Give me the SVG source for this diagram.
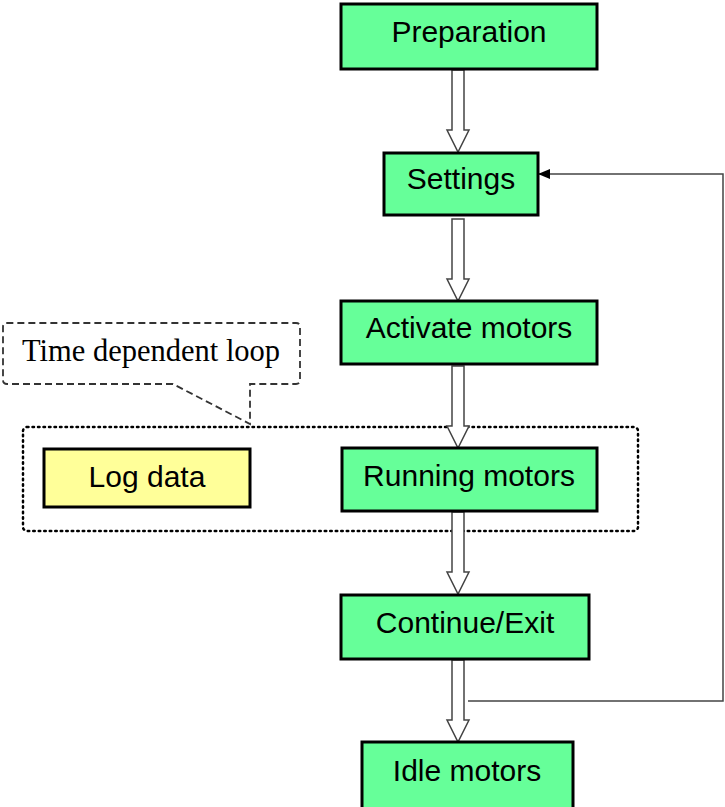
<svg xmlns="http://www.w3.org/2000/svg" width="725" height="807" viewBox="0 0 725 807">
  <style>
    .step { fill: #66FF99; stroke: #000; stroke-width: 3; }
    .note { fill: #FFFF99; stroke: #000; stroke-width: 3; }
    .label { font-family: "Liberation Sans", Arial, sans-serif; font-size: 30px; fill: #000; text-anchor: middle; }
    .callout-text { font-family: "Liberation Serif", "Times New Roman", serif; font-size: 30.5px; fill: #000; }
    .flow { fill: #fff; stroke: #444; stroke-width: 1.5; stroke-linejoin: miter; }
    .loop { fill: none; stroke: #444; stroke-width: 1.5; }
  </style>
  <defs>
    <!-- hollow block arrow pointing down, origin at tip -->
    <path id="blockArrow" d="M -6 -82 L 6 -82 L 6 -22 L 11 -22 L 0 0 L -11 -22 L -6 -22 Z"/>
    <marker id="solidHead" markerWidth="12" markerHeight="10" refX="11" refY="5" orient="auto" markerUnits="userSpaceOnUse">
      <path d="M 0 0 L 12 5 L 0 10 Z" fill="#000"/>
    </marker>
  </defs>

  <!-- loop region and callout -->
  <g id="loop-region">
    <rect x="23" y="427" width="615" height="104" rx="4" fill="none" stroke="#000" stroke-width="2.5" stroke-dasharray="1.5 4" stroke-linecap="round"/>
  </g>
  <g id="callout">
    <path d="M 173 384 L 7 384 Q 3 384 3 380 L 3 327 Q 3 323 7 323 L 296 323 Q 300 323 300 327 L 300 380 Q 300 384 296 384 L 250 384 L 250 424 Z" fill="#fff" stroke="#333" stroke-width="1.8" stroke-dasharray="7 4"/>
    <text class="callout-text" x="22" y="361">Time dependent loop</text>
  </g>

  <!-- connectors -->
  <g id="connectors">
    <use href="#blockArrow" class="flow" x="458" y="152"/>
    <use href="#blockArrow" class="flow" x="458" y="301"/>
    <use href="#blockArrow" class="flow" x="458" y="448"/>
    <use href="#blockArrow" class="flow" x="458" y="594"/>
    <use href="#blockArrow" class="flow" x="458" y="742"/>
    <polyline class="loop" points="468,701 723,701 723,174 539,174" marker-end="url(#solidHead)"/>
  </g>

  <!-- process steps -->
  <g id="preparation">
    <rect class="step" x="341" y="4" width="256" height="65"/>
    <text class="label" x="469" y="42">Preparation</text>
  </g>
  <g id="settings">
    <rect class="step" x="384" y="153" width="154" height="62"/>
    <text class="label" x="461" y="189">Settings</text>
  </g>
  <g id="activate-motors">
    <rect class="step" x="341" y="301" width="256" height="63"/>
    <text class="label" x="469" y="338">Activate motors</text>
  </g>
  <g id="log-data">
    <rect class="note" x="44" y="449" width="206" height="58"/>
    <text class="label" x="147" y="487">Log data</text>
  </g>
  <g id="running-motors">
    <rect class="step" x="342" y="448" width="255" height="63"/>
    <text class="label" x="469" y="486">Running motors</text>
  </g>
  <g id="continue-exit">
    <rect class="step" x="341" y="595" width="248" height="64"/>
    <text class="label" x="465" y="633">Continue/Exit</text>
  </g>
  <g id="idle-motors">
    <rect class="step" x="362" y="742" width="211" height="70"/>
    <text class="label" x="467" y="781">Idle motors</text>
  </g>
</svg>
